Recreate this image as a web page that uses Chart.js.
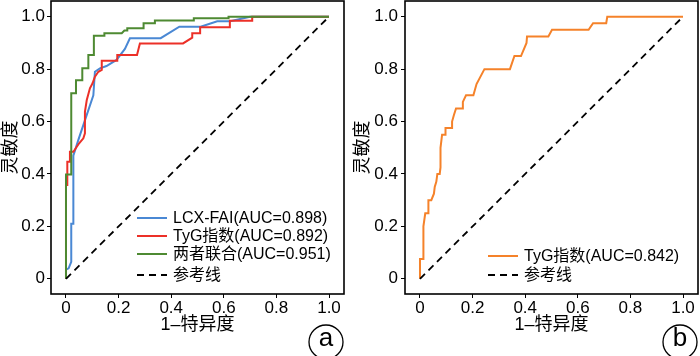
<!DOCTYPE html>
<html><head><meta charset="utf-8">
<script src="https://cdn.jsdelivr.net/npm/chart.js@4.4.0/dist/chart.umd.min.js"></script>
<style>
html,body{margin:0;padding:0;background:#fff;}
#wrap{position:relative;width:700px;height:356px;overflow:hidden;background:#fff;}
canvas{position:absolute;top:0;}
#ca{left:0;} #cb{left:350px;}
</style></head><body>
<div id="wrap"><canvas id="ca" width="350" height="356"></canvas><canvas id="cb" width="350" height="356"></canvas></div>
<script>
// ---- data ----
const tickValues = [0, 0.2, 0.4, 0.6, 0.8, 1.0];
const tickLabels = ['0', '0.2', '0.4', '0.6', '0.8', '1.0'];
const xTitle = '1–特异度';
const yTitle = '灵敏度';

const refFpr = [0, 1];
const refTpr = [0, 1];

const lcxFpr = [0, 0, 0.01, 0.02, 0.02, 0.028, 0.028, 0.047, 0.104, 0.11, 0.129, 0.154, 0.192, 0.224, 0.243, 0.36, 0.431, 0.512, 0.575, 0.624, 0.70, 1];
const lcxTpr = [0, 0.035, 0.04, 0.065, 0.21, 0.21, 0.47, 0.53, 0.70, 0.79, 0.803, 0.812, 0.835, 0.877, 0.918, 0.918, 0.962, 0.962, 0.983, 0.983, 1.0, 1];

const tygFpr = [0, 0, 0.005, 0.005, 0.015, 0.015, 0.028, 0.05, 0.066, 0.072, 0.072, 0.079, 0.091, 0.101, 0.11, 0.123, 0.136, 0.136, 0.195, 0.195, 0.27, 0.281, 0.445, 0.48, 0.48, 0.51, 0.51, 0.623, 0.623, 0.708, 0.708, 1];
const tygTpr = [0, 0.358, 0.358, 0.447, 0.447, 0.485, 0.485, 0.517, 0.536, 0.555, 0.637, 0.682, 0.727, 0.746, 0.771, 0.79, 0.797, 0.832, 0.832, 0.854, 0.854, 0.898, 0.898, 0.92, 0.937, 0.937, 0.96, 0.96, 0.985, 0.985, 1.0, 1];

const comboFpr = [0, 0, 0.02, 0.02, 0.038, 0.038, 0.062, 0.062, 0.085, 0.085, 0.106, 0.106, 0.146, 0.146, 0.212, 0.222, 0.233, 0.233, 0.295, 0.295, 0.338, 0.338, 0.486, 0.486, 0.618, 0.618, 1];
const comboTpr = [0, 0.398, 0.398, 0.708, 0.708, 0.758, 0.758, 0.803, 0.803, 0.854, 0.854, 0.927, 0.927, 0.937, 0.937, 0.947, 0.947, 0.956, 0.956, 0.975, 0.975, 0.986, 0.986, 0.994, 0.994, 1.0, 1];

const tyg2Fpr = [0, 0, 0.013, 0.013, 0.02, 0.032, 0.032, 0.043, 0.053, 0.056, 0.062, 0.066, 0.075, 0.078, 0.078, 0.084, 0.097, 0.097, 0.122, 0.122, 0.129, 0.137, 0.163, 0.163, 0.175, 0.203, 0.215, 0.245, 0.342, 0.359, 0.384, 0.405, 0.407, 0.488, 0.502, 0.641, 0.658, 0.708, 0.712, 1];
const tyg2Tpr = [0, 0.076, 0.076, 0.20, 0.25, 0.25, 0.30, 0.30, 0.325, 0.35, 0.37, 0.40, 0.40, 0.425, 0.50, 0.55, 0.55, 0.575, 0.575, 0.60, 0.625, 0.65, 0.65, 0.675, 0.70, 0.70, 0.743, 0.80, 0.80, 0.85, 0.85, 0.90, 0.925, 0.925, 0.95, 0.95, 0.975, 0.975, 1.0, 1];

const labelsA = ['LCX-FAI(AUC=0.898)', 'TyG指数(AUC=0.892)', '两者联合(AUC=0.951)', '参考线'];
const labelsB = ['TyG指数(AUC=0.842)', '参考线'];

// ---- drawing ----
const FONT = '"Liberation Sans", "Noto Sans CJK SC", Arial, sans-serif';
Chart.defaults.font.family = FONT;
Chart.defaults.color = '#000';

function pts(xs, ys) { return xs.map((x, i) => ({ x: x, y: ys[i] })); }

const framePlugin = {
  id: 'frame',
  afterDatasetsDraw(chart) {
    const { ctx, chartArea: a } = chart;
    ctx.save();
    ctx.strokeStyle = '#000'; ctx.lineWidth = 1.6;
    ctx.strokeRect(a.left, a.top, a.right - a.left, a.bottom - a.top);
    ctx.restore();
  },
  afterDraw(chart, args, opts) {
    const { ctx, chartArea: a } = chart;
    ctx.save();
    ctx.font = '16px ' + FONT; ctx.textBaseline = 'middle'; ctx.fillStyle = '#000';
    chart.data.datasets.forEach((ds, i) => {
      const y = a.top + opts.legendY[i];
      const x0 = a.left + opts.legendX;
      ctx.beginPath();
      ctx.strokeStyle = ds.borderColor; ctx.lineWidth = ds.borderWidth;
      ctx.setLineDash(ds.borderDash || []);
      ctx.moveTo(x0, y); ctx.lineTo(x0 + 30, y); ctx.stroke();
      ctx.setLineDash([]);
      ctx.fillText(ds.label, x0 + 36, y + 1);
    });
    ctx.beginPath(); ctx.lineWidth = 1.3; ctx.strokeStyle = '#000';
    ctx.arc(opts.tagX, opts.tagY, 17, 0, Math.PI * 2); ctx.stroke();
    ctx.font = '26px ' + FONT; ctx.textAlign = 'center';
    ctx.fillText(opts.tag, opts.tagX, opts.tagY - 3);
    ctx.restore();
  }
};

function makeScales(yWidth, yTitlePad, yTickPad) {
  return {
    x: {
      type: 'linear', min: -0.057, max: 1.057,
      afterBuildTicks: s => { s.ticks = tickValues.map(v => ({ value: v })); },
      afterFit: s => { s.height = 62; s.paddingLeft = 0; s.paddingRight = 0; s.paddingTop = 0; s.paddingBottom = 0; },
      grid: { display: true, drawOnChartArea: false, drawTicks: true, tickLength: 4, color: '#000', lineWidth: 1 },
      border: { display: false },
      ticks: { font: { size: 17 }, color: '#000', padding: 0, maxRotation: 0, autoSkip: false,
        callback: v => tickLabels[tickValues.indexOf(v)] },
      title: { display: true, text: xTitle, font: { size: 18 }, color: '#000', padding: { top: 0, bottom: 20 } }
    },
    y: {
      type: 'linear', min: -0.058, max: 1.06,
      afterBuildTicks: s => { s.ticks = tickValues.map(v => ({ value: v })); },
      afterFit: s => { s.width = yWidth; s.paddingTop = 0; s.paddingBottom = 0; s.paddingLeft = 0; s.paddingRight = 0; },
      grid: { display: true, drawOnChartArea: false, drawTicks: true, tickLength: 4, color: '#000', lineWidth: 1 },
      border: { display: false },
      ticks: { font: { size: 17 }, color: '#000', padding: yTickPad, autoSkip: false,
        callback: v => tickLabels[tickValues.indexOf(v)] },
      title: { display: true, text: yTitle, font: { size: 18 }, color: '#000', padding: { top: yTitlePad, bottom: 0 } }
    }
  };
}

function lineDs(label, xs, ys, color, order, dash) {
  return { label: label, data: pts(xs, ys), borderColor: color, backgroundColor: color,
    borderWidth: dash ? 1.8 : 2, borderDash: dash || [], pointRadius: 0, showLine: true,
    fill: false, tension: 0, order: order };
}

new Chart(document.getElementById('ca'), {
  type: 'scatter',
  data: { datasets: [
    lineDs(labelsA[0], lcxFpr, lcxTpr, '#4A88D4', 4),
    lineDs(labelsA[1], tygFpr, tygTpr, '#EC3028', 3),
    lineDs(labelsA[2], comboFpr, comboTpr, '#4E8A32', 2),
    lineDs(labelsA[3], refFpr, refTpr, '#000000', 1, [7, 5])
  ] },
  options: {
    responsive: false, animation: false, devicePixelRatio: 1,
    layout: { padding: { top: 1, right: 6, left: 0, bottom: 0 } },
    scales: makeScales(51, 0, 2),
    plugins: { legend: { display: false }, tooltip: { enabled: false },
      frame: { legendX: 86, legendY: [217, 235, 253, 274], tag: 'a', tagX: 326, tagY: 342 } }
  },
  plugins: [framePlugin]
});

new Chart(document.getElementById('cb'), {
  type: 'scatter',
  data: { datasets: [
    lineDs(labelsB[0], tyg2Fpr, tyg2Tpr, '#F5822A', 2),
    lineDs(labelsB[1], refFpr, refTpr, '#000000', 1, [7, 5])
  ] },
  options: {
    responsive: false, animation: false, devicePixelRatio: 1,
    layout: { padding: { top: 1, right: 2, left: 0, bottom: 0 } },
    scales: makeScales(55, 2, 3),
    plugins: { legend: { display: false }, tooltip: { enabled: false },
      frame: { legendX: 83, legendY: [255, 274], tag: 'b', tagX: 330, tagY: 342 } }
  },
  plugins: [framePlugin]
});
</script>
</body></html>
